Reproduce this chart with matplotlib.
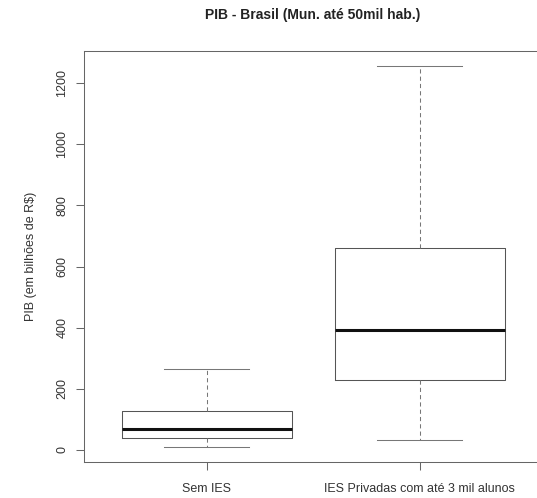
import matplotlib
matplotlib.use("Agg")
import matplotlib.pyplot as plt

categories = ["Sem IES", "IES Privadas com até 3 mil alunos"]
whisker_low = [10, 32]
q1 = [38, 228]
median = [68, 392]
q3 = [128, 660]
whisker_high = [264, 1256]
yticks = [0, 200, 400, 600, 800, 1000, 1200]

plt.rcParams['font.family'] = ['Liberation Sans', 'DejaVu Sans']

fig = plt.figure(figsize=(5.37, 4.98), dpi=100)
ax = fig.add_axes([83.5/537, 1-462/498, (543-83.5)/537, (462-51)/498])

stats = []
for i, c in enumerate(categories):
    stats.append(dict(label=c, whislo=whisker_low[i], q1=q1[i], med=median[i],
                      q3=q3[i], whishi=whisker_high[i], fliers=[]))

ax.bxp(stats, positions=[1, 2], widths=0.8, showfliers=False,
       boxprops=dict(color='#555555', linewidth=0.75),
       medianprops=dict(color='#111111', linewidth=2.2, solid_capstyle='butt'),
       whiskerprops=dict(color='#777777', linewidth=0.75, linestyle=(0, (4, 3))),
       capprops=dict(color='#777777', linewidth=0.75),
       capwidths=0.4)

lo, hi = min(whisker_low), max(whisker_high)
pad = 0.04 * (hi - lo)
ax.set_ylim(lo - pad, hi + pad)
ax.set_xlim(0.42, 2.58)
ax.set_yticks(yticks)
ax.set_yticklabels([str(t) for t in yticks], rotation=90, va='center', fontsize=9)
ax.set_xticks([1, 2])
ax.set_xticklabels(categories, fontsize=9)
for s in ax.spines.values():
    s.set_color('#666666')
    s.set_linewidth(0.75)
ax.tick_params(axis='both', length=6, color='#666666', width=0.75, labelcolor='#333333')
ax.tick_params(axis='y', pad=5)
ax.tick_params(axis='x', pad=9)
ax.set_ylabel("PIB (em bilhões de R$)", fontsize=9, labelpad=14, color='#333333')
fig.text(313/537, 1-15/498, "PIB - Brasil (Mun. até 50mil hab.)", ha='center', va='center',
         fontsize=10, fontweight='bold', color='#222222')

fig.savefig("out.png", dpi=100)
